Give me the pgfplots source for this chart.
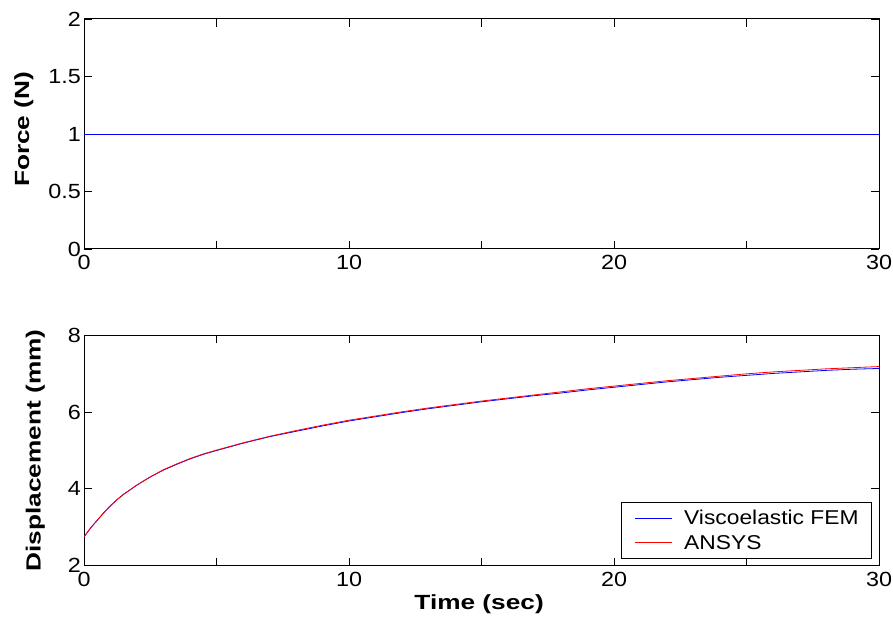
\documentclass[border=0pt]{standalone}
\usepackage{fontspec}
\setmainfont{Liberation Sans}[FakeStretch=1.14]
\newfontfamily\labfont{Liberation Sans}[FakeStretch=1.28]
\usepackage{pgfplots}
\pgfplotsset{compat=1.18}
\usepackage{pgfplotstable}

\pgfplotstableread{
t F
0 1
30 1
}\forcedata

\pgfplotstableread{
t fem ansys
0 2.75 2.75
0.25 2.98 2.98
0.5 3.18 3.18
0.75 3.38 3.38
1 3.56 3.56
1.25 3.72 3.72
1.5 3.86 3.86
2 4.10 4.10
2.5 4.31 4.31
3 4.49 4.50
3.5 4.64 4.65
4 4.78 4.79
4.5 4.90 4.91
5 5.00 5.01
6 5.19 5.20
7 5.36 5.37
8 5.50 5.52
9 5.64 5.66
10 5.77 5.79
11 5.88 5.90
12 5.99 6.01
13 6.09 6.11
14 6.18 6.20
15 6.27 6.29
16 6.35 6.37
17 6.43 6.45
18 6.50 6.53
19 6.58 6.61
20 6.65 6.68
21 6.72 6.75
22 6.79 6.82
23 6.85 6.88
24 6.91 6.94
25 6.96 7.00
26 7.01 7.05
27 7.05 7.09
28 7.09 7.13
29 7.12 7.16
30 7.14 7.19
}\dispdata

\pgfplotsset{
  myaxis/.style={
    scale only axis,
    width=795pt, height=230pt,
    xmin=0, xmax=30,
    xtick={0,5,10,15,20,25,30},
    xticklabels={0,{},10,{},20,{},30},
    tick align=inside,
    major tick length=8pt,
    axis line style={line width=1pt, black},
    every tick/.style={black, line width=0.8pt},
    /pgf/number format/assume math mode=true,
    tick label style={font=\fontsize{20.5}{24}\selectfont},
    xticklabel style={inner sep=0pt, anchor=north, yshift=-6pt},
    yticklabel style={inner sep=0pt, anchor=east, xshift=-3pt},
    label style={font=\labfont\bfseries\fontsize{20.5}{24}\selectfont, inner sep=0pt},
  }
}

\begin{document}
\begin{tikzpicture}
\useasboundingbox (0pt,0pt) rectangle (893pt,618pt);
\begin{axis}[myaxis,
  at={(84pt,369pt)}, anchor=south west,
  ymin=0, ymax=2,
  ytick={0,0.5,1,1.5,2},
  yticklabels={0,0.5,1,1.5,2},
  ylabel={Force (N)},
  ylabel style={at={(axis description cs:-0.0635,0.52)}, anchor=south, rotate=0},
]
\addplot[blue, line width=0.8pt] table[x=t, y=F] {\forcedata};
\end{axis}

\begin{axis}[myaxis,
  at={(84pt,52.5pt)}, anchor=south west,
  ymin=2, ymax=8,
  ytick={2,4,6,8},
  yticklabels={2,4,6,8},
  ylabel={Displacement (mm)},
  ylabel style={at={(axis description cs:-0.049,0.5)}, anchor=south},
  xlabel={Time (sec)},
  xlabel style={at={(axis description cs:0.497,-0.125)}, anchor=north},
  legend cell align=left,
  legend image code/.code={\draw[#1] (0pt,0pt) -- (37pt,0pt);},
  legend style={at={(1,0)}, anchor=south east, xshift=-7pt, yshift=6.5pt,
    draw=black, line width=0.8pt, inner xsep=13pt, inner ysep=8pt,
    row sep=9pt, column sep=12pt,
    font=\fontsize{20}{24}\selectfont,
    nodes={inner sep=0pt}},
]
\addplot[blue, line width=0.8pt] table[x=t, y=fem] {\dispdata};
\addlegendentry{Viscoelastic FEM}
\addplot[red, line width=0.8pt] table[x=t, y=ansys] {\dispdata};
\addlegendentry{ANSYS}
\end{axis}
\end{tikzpicture}
\end{document}
